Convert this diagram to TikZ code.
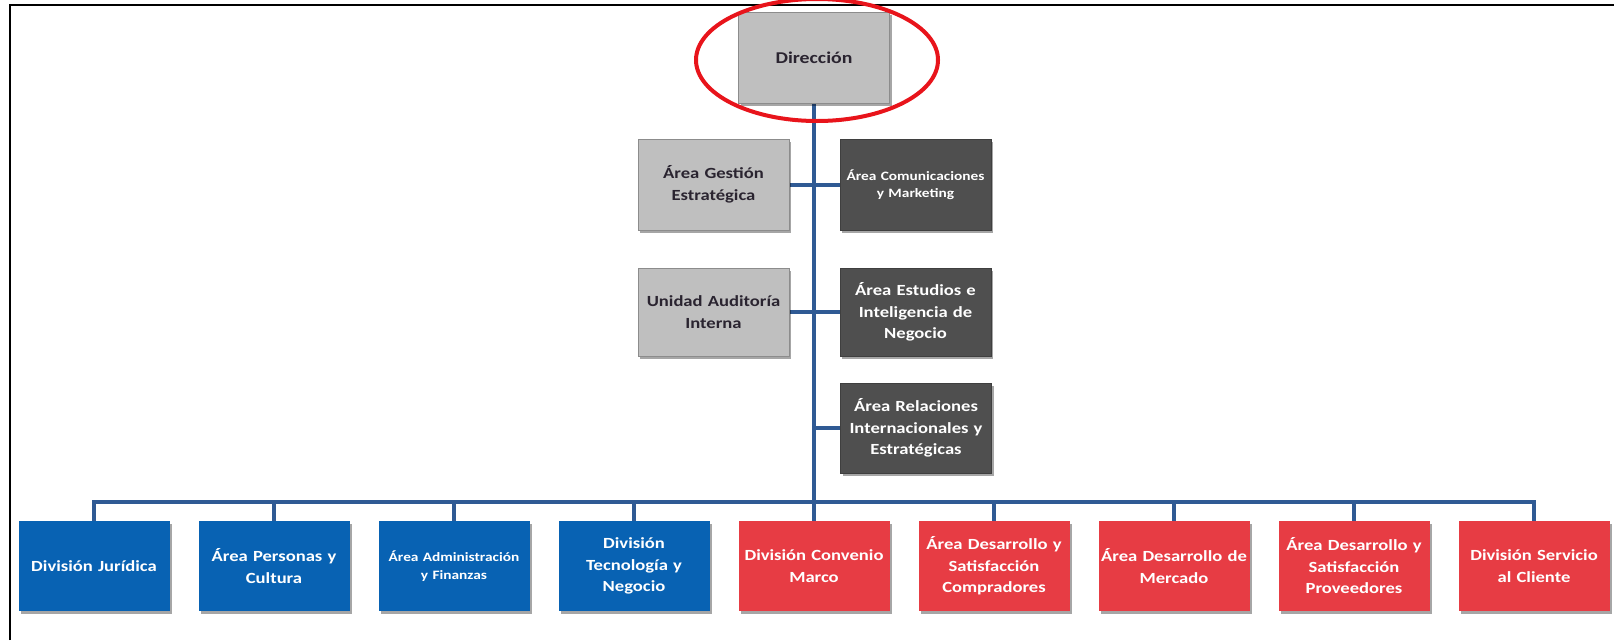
\documentclass[tikz,border=0pt]{standalone}
\usepackage{fontspec}
\setmainfont{Carlito}
\newfontfamily\boxfont[FakeStretch=1.2]{Carlito}
\usetikzlibrary{shadows,backgrounds}
\definecolor{lgray}{HTML}{BFBFBF}
\definecolor{lgrayb}{HTML}{8C8C8C}
\definecolor{dgray}{HTML}{4F4F4F}
\definecolor{bblue}{HTML}{0862B3}
\definecolor{rred}{HTML}{E73C44}
\definecolor{conncol}{HTML}{2F5A94}
\definecolor{ellred}{HTML}{E8141B}
\definecolor{txtdark}{HTML}{2A2430}
\newcommand{\bigtxt}{\boxfont\bfseries\fontsize{15.5}{21.5}\selectfont}
\newcommand{\smalltxt}{\boxfont\bfseries\fontsize{12.8}{17.5}\selectfont}
\tikzset{
  box/.style={rectangle, inner sep=0pt, minimum width=151pt, minimum height=90pt,
    text width=151pt, align=center, font=\bigtxt,
    drop shadow={shadow xshift=2pt, shadow yshift=-3pt, opacity=0.35, fill=black}},
  lbox/.style={box, fill=lgray, draw=lgrayb, line width=1pt, text=txtdark},
  dbox/.style={box, fill=dgray, draw=dgray!80!black, line width=0.6pt, text=white},
  bbox/.style={box, fill=bblue, text=white},
  rbox/.style={box, fill=rred, text=white},
  conn/.style={draw=conncol, line width=4pt},
}
\begin{document}
\begin{tikzpicture}[x=1pt,y=-1pt]
\useasboundingbox (0,0) rectangle (1614,640);
% frame
\draw[line width=2pt] (10,640) -- (10,5) -- (1614,5);
% top
\node[lbox, minimum width=147pt, minimum height=91pt, font=\boxfont\bfseries\fontsize{16.5}{20}\selectfont] (dir) at (814,57.5) {Dirección};
% middle
\node[lbox, minimum height=91pt] (ges) at (713.5,184.5) {Área Gestión\\Estratégica};
\node[dbox, minimum width=149pt, minimum height=91pt, font=\smalltxt] (com) at (915.5,184.5) {Área Comunicaciones\\y Marketing};
\node[lbox, minimum height=88pt] (aud) at (713.5,312) {Unidad Auditoría\\Interna};
\node[dbox, minimum width=149pt, minimum height=88pt] (est) at (915.5,312) {Área Estudios e\\Inteligencia de\\Negocio};
\node[dbox, minimum width=150pt] (rel) at (916,428) {Área Relaciones\\Internacionales y\\Estratégicas};
% bottom
\node[bbox] (b1) at (94,566) {División Jurídica};
\node[bbox] (b2) at (274,566) {Área Personas y\\Cultura};
\node[bbox, font=\smalltxt] (b3) at (454,566) {Área Administración\\y Finanzas};
\node[bbox] (b4) at (634,566) {División\\Tecnología y\\Negocio};
\node[rbox] (b5) at (814,566) {División Convenio\\Marco};
\node[rbox] (b6) at (994,566) {Área Desarrollo y\\Satisfacción\\Compradores};
\node[rbox] (b7) at (1174,566) {Área Desarrollo de\\Mercado};
\node[rbox] (b8) at (1354,566) {Área Desarrollo y\\Satisfacción\\Proveedores};
\node[rbox] (b9) at (1534,566) {División Servicio\\al Cliente};
\coordinate (bus) at (814,502);
\begin{scope}[on background layer]
\draw[conn] (dir.south) -- (bus);
\draw[conn] (ges.east) -- (ges.east -| dir.south);
\draw[conn] (com.west) -- (com.west -| dir.south);
\draw[conn] (aud.east) -- (aud.east -| dir.south);
\draw[conn] (est.west) -- (est.west -| dir.south);
\draw[conn] (rel.west) -- (rel.west -| dir.south);
\draw[conn] (b1.north) -- (b1.north |- bus) -- (b9.north |- bus) -- (b9.north);
\foreach \n in {b2,b3,b4,b5,b6,b7,b8}{\draw[conn] (\n.north) -- (\n.north |- bus);}
\end{scope}
% highlight ellipse
\draw[ellred, line width=4pt] (817,60) ellipse [x radius=121, y radius=61];
\end{tikzpicture}
\end{document}
